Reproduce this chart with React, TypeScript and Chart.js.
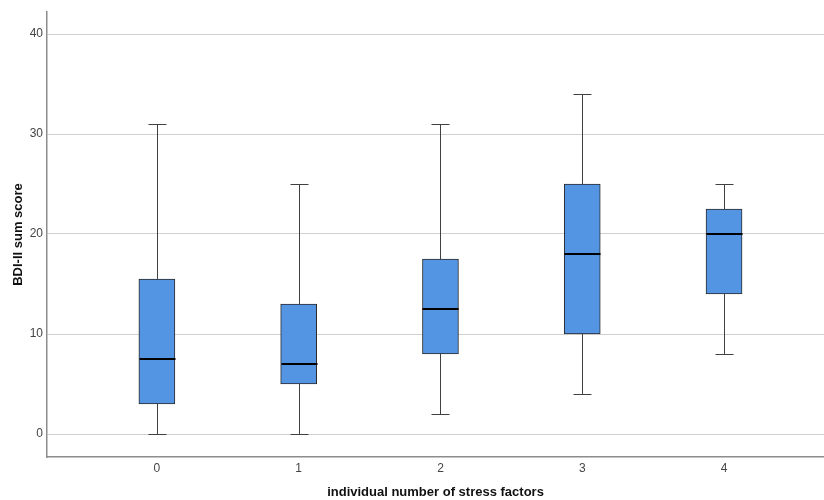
import React, { useEffect, useRef } from "react";
import { Chart, registerables } from "chart.js";

Chart.register(...registerables);

const categories = [0, 1, 2, 3, 4];
const mins = [0, 0, 2, 4, 8];
const q1s = [3, 5, 8, 10, 14];
const medians = [7.5, 7, 12.5, 18, 20];
const q3s = [15.5, 13, 17.5, 25, 22.5];
const maxs = [31, 25, 31, 34, 25];
const yTicks = [0, 10, 20, 30, 40];

const FONT = "Arial, 'Liberation Sans', sans-serif";

const whiskerPlugin = {
  id: "whiskers",
  afterDatasetsDraw(chart: any) {
    const { ctx } = chart;
    const xs = chart.scales.x;
    const ys = chart.scales.y;
    const capHalf = 9;
    const boxHalf = 18;
    ctx.save();
    categories.forEach((c, i) => {
      const x = Math.round(xs.getPixelForValue(c)) + 0.5;
      const yMin = Math.round(ys.getPixelForValue(mins[i])) + 0.5;
      const yMax = Math.round(ys.getPixelForValue(maxs[i])) + 0.5;
      const yQ1 = ys.getPixelForValue(q1s[i]);
      const yQ3 = ys.getPixelForValue(q3s[i]);
      const yMed = Math.round(ys.getPixelForValue(medians[i]));
      ctx.strokeStyle = "#404040";
      ctx.lineWidth = 1;
      ctx.beginPath();
      ctx.moveTo(x, yQ3);
      ctx.lineTo(x, yMax);
      ctx.moveTo(x - capHalf, yMax);
      ctx.lineTo(x + capHalf, yMax);
      ctx.moveTo(x, yQ1);
      ctx.lineTo(x, yMin);
      ctx.moveTo(x - capHalf, yMin);
      ctx.lineTo(x + capHalf, yMin);
      ctx.stroke();
      ctx.strokeStyle = "#000000";
      ctx.lineWidth = 2;
      ctx.beginPath();
      ctx.moveTo(x - boxHalf, yMed);
      ctx.lineTo(x + boxHalf, yMed);
      ctx.stroke();
    });
    ctx.restore();
  },
};

export default function App() {
  const ref = useRef<HTMLCanvasElement>(null);
  useEffect(() => {
    document.body.style.margin = "0";
    const chart = new Chart(ref.current as HTMLCanvasElement, {
      type: "bar",
      data: {
        datasets: [
          {
            data: categories.map((c, i) => ({ x: c, y: [q1s[i], q3s[i]] })) as any,
            backgroundColor: "#5394E3",
            borderColor: "#2b2b2b",
            borderWidth: 1,
            borderSkipped: false,
            barThickness: 36,
          },
        ],
      },
      options: {
        animation: false,
        responsive: false,
        layout: { padding: { top: 12, right: 0, left: 0, bottom: 0 } },
        plugins: { legend: { display: false }, tooltip: { enabled: false } },
        scales: {
          x: {
            type: "linear",
            offset: false,
            min: -0.775,
            max: 4.705,
            afterFit: (s: any) => {
              s.height = 43;
            },
            afterBuildTicks: (s: any) => {
              s.ticks = categories.map((v) => ({ value: v }));
            },
            ticks: {
              color: "#444444",
              font: { family: FONT, size: 12 },
              padding: 4,
            },
            grid: { display: false, drawTicks: false, offset: false },
            border: { display: true, color: "#8c8c8c", width: 1.5 },
            title: {
              display: true,
              text: "individual number of stress factors",
              color: "#111111",
              font: { family: FONT, size: 13, weight: "bold" },
              padding: { top: 9, bottom: 0 },
            },
          },
          y: {
            type: "linear",
            min: -2.3,
            max: 42.2,
            afterFit: (s: any) => {
              s.width = 47;
            },
            afterBuildTicks: (s: any) => {
              s.ticks = yTicks.map((v) => ({ value: v }));
            },
            ticks: {
              color: "#444444",
              font: { family: FONT, size: 12 },
              padding: 4,
            },
            grid: { color: "#d0d0d0", lineWidth: 1, drawTicks: false },
            border: { display: true, color: "#8c8c8c", width: 1.5 },
            title: {
              display: true,
              text: "BDI-II sum score",
              color: "#111111",
              font: { family: FONT, size: 13, weight: "bold" },
              padding: { top: 11, bottom: 0 },
            },
          },
        },
      },
      plugins: [whiskerPlugin],
    });
    return () => chart.destroy();
  }, []);
  return <canvas ref={ref} width={824} height={500} style={{ display: "block" }} />;
}
